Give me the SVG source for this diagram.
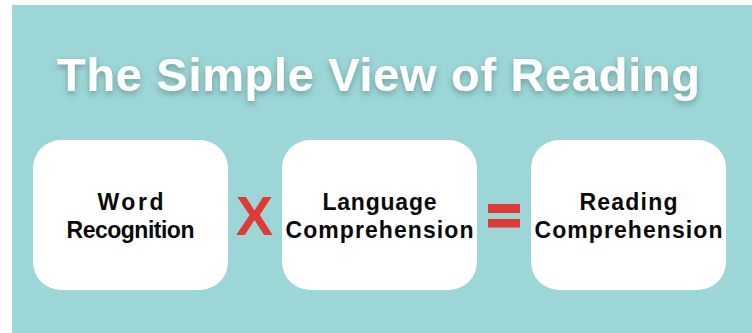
<svg xmlns="http://www.w3.org/2000/svg" width="752" height="333" viewBox="0 0 752 333">
  <defs>
    <filter id="titleShadow" x="-10%" y="-40%" width="120%" height="180%">
      <feDropShadow dx="0" dy="3" stdDeviation="3" flood-color="#000000" flood-opacity="0.28"/>
    </filter>
  </defs>
  <style>
    .bg { fill: #9cd6d6; }
    .card { fill: #ffffff; }
    .title { font-family: "Liberation Sans", Arial, sans-serif; font-weight: 700; font-size: 47px; fill: #ffffff; }
    .label { font-family: "Liberation Sans", Arial, sans-serif; font-weight: 700; font-size: 23px; fill: #0a0a0a; text-anchor: middle; }
    .op { fill: #e03a37; }
    .opText { font-family: "Liberation Sans", Arial, sans-serif; font-weight: 700; font-size: 56px; fill: #e03a37; text-anchor: middle; }
  </style>

  <!-- page and panel -->
  <rect x="0" y="0" width="752" height="333" fill="#ffffff"/>
  <rect class="bg" x="12" y="5" width="740" height="328"/>

  <!-- heading -->
  <g id="title" filter="url(#titleShadow)">
    <text class="title" x="378.5" y="91" text-anchor="middle" textLength="643" lengthAdjust="spacing">The Simple View of Reading</text>
  </g>

  <!-- nodes -->
  <g id="node-word-recognition">
    <rect class="card" x="33" y="140" width="195" height="150" rx="28" ry="28"/>
    <text class="label" x="130.5" y="210" textLength="66" lengthAdjust="spacing">Word</text>
    <text class="label" x="130.5" y="238" textLength="128" lengthAdjust="spacing">Recognition</text>
  </g>

  <g id="node-language-comprehension">
    <rect class="card" x="282" y="140" width="195" height="150" rx="28" ry="28"/>
    <text class="label" x="379.5" y="210" textLength="114" lengthAdjust="spacing">Language</text>
    <text class="label" x="379.5" y="238" textLength="188" lengthAdjust="spacing">Comprehension</text>
  </g>

  <g id="node-reading-comprehension">
    <rect class="card" x="531" y="140" width="195" height="150" rx="28" ry="28"/>
    <text class="label" x="628.5" y="210" textLength="98" lengthAdjust="spacing">Reading</text>
    <text class="label" x="628.5" y="238" textLength="188" lengthAdjust="spacing">Comprehension</text>
  </g>

  <!-- operators between the cards -->
  <g id="connectors">
    <text class="opText" x="254.5" y="235">X</text>
    <rect class="op" x="488" y="204" width="32" height="9"/>
    <rect class="op" x="488" y="219" width="32" height="8.5"/>
  </g>
</svg>
